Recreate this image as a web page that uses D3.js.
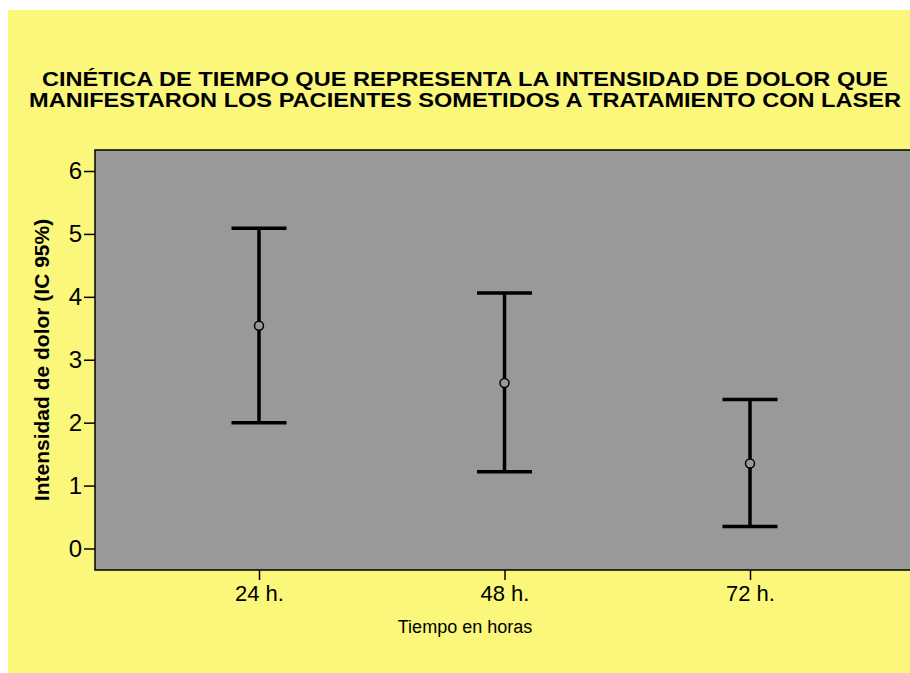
<!DOCTYPE html>
<html>
<head>
<meta charset="utf-8">
<script src="https://cdn.jsdelivr.net/npm/d3@7"></script>
<style>
  body { margin: 0; background: #ffffff; }
  text { font-family: "Liberation Sans", Arial, sans-serif; }
</style>
</head>
<body>
<script>
// Intervalos de confianza 95% por tiempo

var categories = ['24 h.', '48 h.', '72 h.'];
var means = [3.54, 2.63, 1.35];
var lower = [2.00, 1.22, 0.35];
var upper = [5.09, 4.06, 2.37];
var yTicks = [0, 1, 2, 3, 4, 5, 6];

var titleLines = [
    'CINÉTICA DE TIEMPO QUE REPRESENTA LA INTENSIDAD DE DOLOR QUE',
    'MANIFESTARON LOS PACIENTES SOMETIDOS A TRATAMIENTO CON LASER'
];

var width = 910;
var height = 673;

var svg = d3.select('body').append('svg')
    .attr('width', width)
    .attr('height', height);

// fondo amarillo
svg.append('rect')
    .attr('x', 8)
    .attr('y', 10)
    .attr('width', width - 8)
    .attr('height', height - 10)
    .attr('fill', '#faf77b');

var plot = {left: 95, top: 150, right: 914, bottom: 570};

var x = d3.scalePoint()
    .domain(categories)
    .range([plot.left, plot.right])
    .padding(0.668);

var y = d3.scaleLinear()
    .domain([-0.342, 6.334])
    .range([plot.bottom, plot.top]);

// area gris
svg.append('rect')
    .attr('x', plot.left)
    .attr('y', plot.top)
    .attr('width', plot.right - plot.left)
    .attr('height', plot.bottom - plot.top)
    .attr('fill', '#999999')
    .attr('stroke', '#000000')
    .attr('stroke-width', 1.5);

// titulo (el original va algo estirado a lo ancho)
var titleWidths = [846, 872];
svg.append('g').selectAll('text')
    .data(titleLines)
    .enter().append('text')
    .attr('x', 465)
    .attr('y', function(d, i){ return 86 + i * 20.5; })
    .attr('text-anchor', 'middle')
    .attr('font-size', '19.5px')
    .attr('font-weight', 'bold')
    .attr('fill', '#000000')
    .attr('textLength', function(d, i){ return titleWidths[i]; })
    .attr('lengthAdjust', 'spacingAndGlyphs')
    .text(function(d){ return d; });

// ejes
var yAxis = svg.append('g')
    .attr('transform', 'translate(' + plot.left + ',0)')
    .call(d3.axisLeft(y).tickValues(yTicks).tickFormat(d3.format('d')).tickSize(11).tickPadding(2));
yAxis.select('.domain').remove();
yAxis.selectAll('line').attr('stroke', '#000000').attr('stroke-width', 1.5);
yAxis.selectAll('text')
    .attr('font-size', '24px')
    .attr('fill', '#000000')
    .style('font-family', '"Liberation Sans", Arial, sans-serif');

var xAxis = svg.append('g')
    .attr('transform', 'translate(0,' + plot.bottom + ')')
    .call(d3.axisBottom(x).tickSize(10).tickPadding(5));
xAxis.select('.domain').remove();
xAxis.selectAll('line').attr('stroke', '#000000').attr('stroke-width', 1.5);
xAxis.selectAll('text')
    .attr('font-size', '22px')
    .attr('fill', '#000000')
    .style('font-family', '"Liberation Sans", Arial, sans-serif');

svg.append('text')
    .attr('x', 465)
    .attr('y', 633)
    .attr('text-anchor', 'middle')
    .attr('font-size', '18px')
    .attr('fill', '#000000')
    .text('Tiempo en horas');

svg.append('text')
    .attr('transform', 'translate(49,360) rotate(-90)')
    .attr('text-anchor', 'middle')
    .attr('font-size', '21px')
    .attr('font-weight', 'bold')
    .attr('fill', '#000000')
    .text('Intensidad de dolor (IC 95%)');

// barras de error
var capHalf = 27.5;
var bars = svg.append('g');

for (var i = 0; i < categories.length; i++) {
    var cx = x(categories[i]);
    bars.append('line')
        .attr('x1', cx).attr('x2', cx)
        .attr('y1', y(upper[i])).attr('y2', y(lower[i]))
        .attr('stroke', '#000000').attr('stroke-width', 3.5);
    bars.append('line')
        .attr('x1', cx - capHalf).attr('x2', cx + capHalf)
        .attr('y1', y(upper[i])).attr('y2', y(upper[i]))
        .attr('stroke', '#000000').attr('stroke-width', 3.5);
    bars.append('line')
        .attr('x1', cx - capHalf).attr('x2', cx + capHalf)
        .attr('y1', y(lower[i])).attr('y2', y(lower[i]))
        .attr('stroke', '#000000').attr('stroke-width', 3.5);
    bars.append('circle')
        .attr('cx', cx)
        .attr('cy', y(means[i]))
        .attr('r', 4.5)
        .attr('fill', '#999999')
        .attr('stroke', '#000000')
        .attr('stroke-width', 1.5);
}
</script>
</body>
</html>
